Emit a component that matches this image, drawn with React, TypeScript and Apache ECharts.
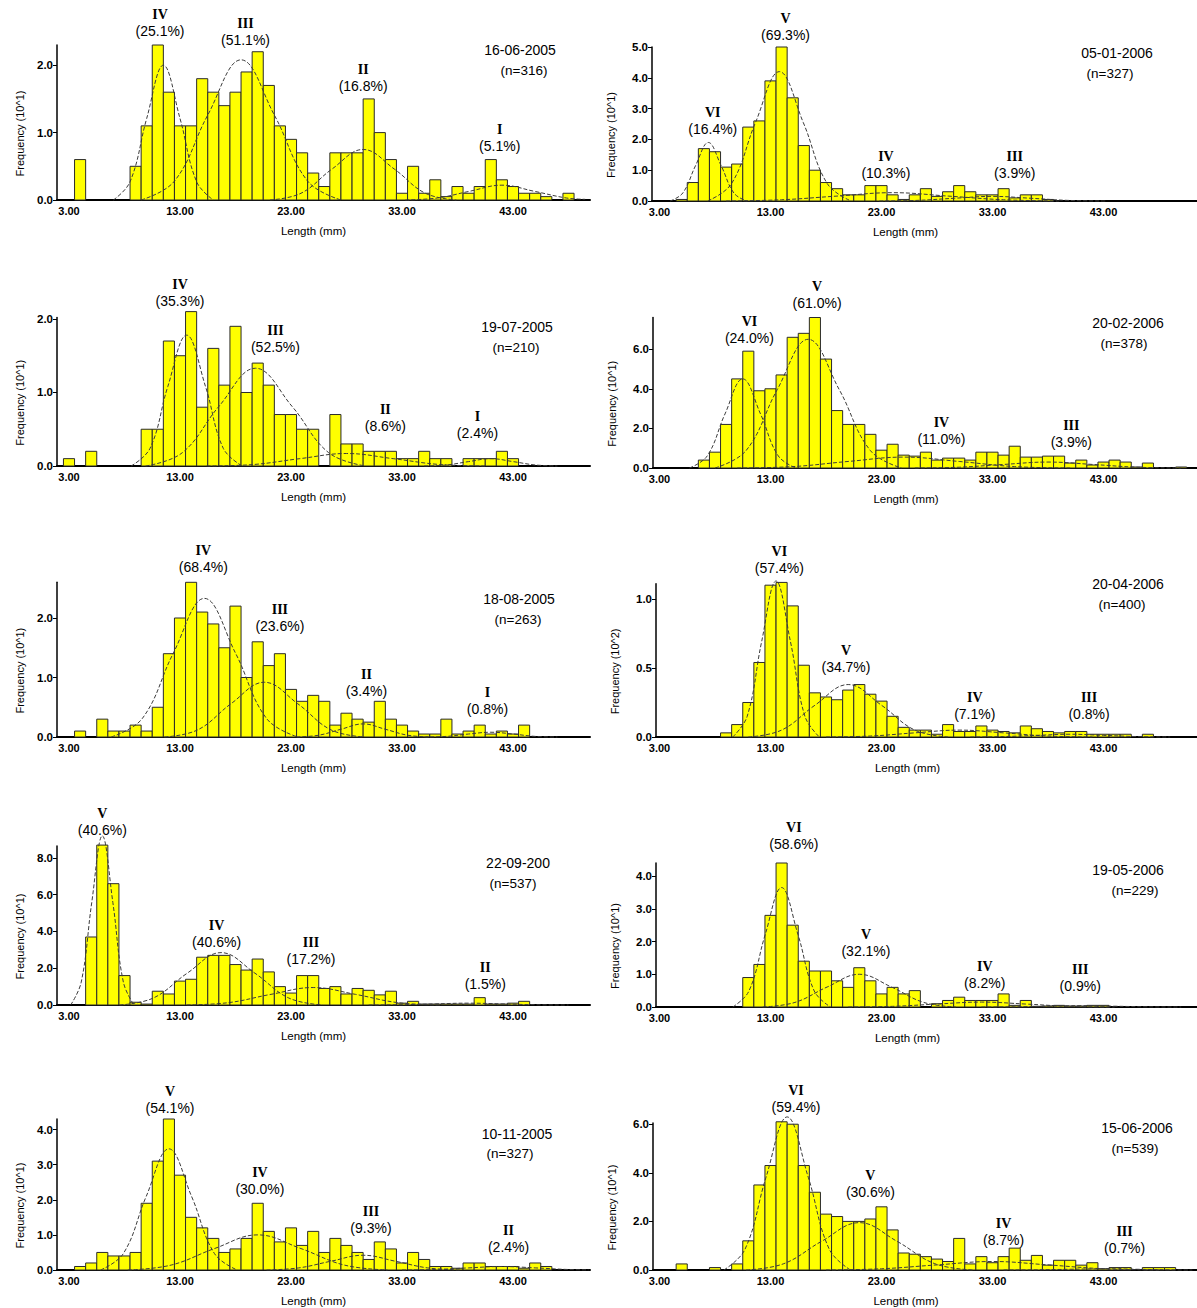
import React, { useEffect, useRef } from "react";
import * as echarts from "echarts";

// ---------------- DATA ----------------
// Length classes are 1 mm wide; the first value of every frequency list is the 3 mm class.
const FIRST_CLASS_MM = 3;
const lengthTickValues = [3, 13, 23, 33, 43];

// 16-06-2005 (n=316)
const freq_16_06_2005 = [0, 0.6, 0, 0, 0, 0, 0.5, 1.1, 2.3, 1.6, 1.1, 1.1, 1.8, 1.6, 1.4, 1.6, 1.9, 2.2, 1.7, 1.1, 0.9, 0.7, 0.4, 0.2, 0.7, 0.7, 0.7, 1.5, 1.0, 0.6, 0.1, 0.5, 0.1, 0.3, 0.05, 0.2, 0.1, 0.2, 0.6, 0.3, 0.2, 0.1, 0.1, 0.05, 0, 0.1];
const cohorts_16_06_2005 = ["IV", "III", "II", "I"];
const pct_16_06_2005 = [25.1, 51.1, 16.8, 5.1];
const curves_16_06_2005 = [
  [[7, 0], [8.5, 0.27], [10, 1.21], [11.5, 2.0], [13, 1.21], [14.5, 0.27], [16, 0]],
  [[9.5, 0], [12.5, 0.28], [15.5, 1.26], [18.5, 2.08], [21.5, 1.26], [24.5, 0.28], [27.5, 0]],
  [[21.1, 0], [23.9, 0.1], [26.7, 0.46], [29.5, 0.75], [32.3, 0.46], [35.1, 0.1], [37.9, 0]],
  [[33.3, 0], [36.2, 0.03], [39.1, 0.13], [42, 0.22], [44.9, 0.13], [47.8, 0.03], [49.5, 0.01]],
];
const yTicks_16_06_2005 = [0, 1, 2];

// 05-01-2006 (n=327)
const freq_05_01_2006 = [0, 0, 0.05, 0.6, 1.7, 1.6, 1.1, 1.2, 2.4, 2.6, 3.9, 5.0, 3.35, 1.8, 1.0, 0.6, 0.4, 0.2, 0.2, 0.5, 0.5, 0.2, 0.05, 0.2, 0.4, 0.15, 0.3, 0.5, 0.3, 0.2, 0.2, 0.4, 0.1, 0.2, 0.2, 0.05];
const cohorts_05_01_2006 = ["VI", "V", "IV", "III"];
const pct_05_01_2006 = [16.4, 69.3, 10.3, 3.9];
const curves_05_01_2006 = [
  [[3.95, 0], [5.1, 0.26], [6.25, 1.15], [7.4, 1.9], [8.55, 1.15], [9.7, 0.26], [10.85, 0]],
  [[7.35, 0], [9.5, 0.57], [11.65, 2.55], [13.8, 4.2], [15.95, 2.55], [18.1, 0.57], [20.25, 0]],
  [[9, 0], [14, 0.04], [19, 0.16], [24, 0.27], [29, 0.16], [34, 0.04], [39, 0]],
  [[22.8, 0], [26.2, 0.02], [29.6, 0.09], [33, 0.15], [36.4, 0.09], [39.8, 0.02], [43.2, 0]],
];
const yTicks_05_01_2006 = [0, 1, 2, 3, 4, 5];

// 19-07-2005 (n=210)
const freq_19_07_2005 = [0.1, 0, 0.2, 0, 0, 0, 0, 0.5, 0.5, 1.7, 1.5, 2.1, 0.8, 1.6, 1.1, 1.9, 1.0, 1.4, 1.1, 0.7, 0.7, 0.5, 0.5, 0, 0.7, 0.3, 0.3, 0.2, 0.2, 0.2, 0.1, 0.1, 0.2, 0.1, 0.1, 0, 0.1, 0.1, 0.1, 0.2, 0.1];
const cohorts_19_07_2005 = ["IV", "III", "II", "I"];
const pct_19_07_2005 = [35.3, 52.5, 8.6, 2.4];
const curves_19_07_2005 = [
  [[8.6, 0], [10.3, 0.24], [11.9, 1.08], [13.6, 1.78], [15.3, 1.08], [16.9, 0.24], [18.6, 0]],
  [[9.9, 0], [13.2, 0.18], [16.5, 0.81], [19.8, 1.33], [23.1, 0.81], [26.4, 0.18], [29.7, 0]],
  [[15.4, 0], [19.6, 0.02], [23.8, 0.1], [28, 0.17], [32.2, 0.1], [36.4, 0.02], [40.6, 0]],
  [[35, 0], [37, 0.014], [39, 0.06], [41, 0.1], [43, 0.06], [45, 0.014], [47, 0]],
];
const yTicks_19_07_2005 = [0, 1, 2];

// 20-02-2006 (n=378)
const freq_20_02_2006 = [0, 0, 0, 0, 0.4, 0.8, 2.2, 4.5, 5.9, 3.9, 4.0, 4.7, 6.6, 6.8, 7.6, 5.5, 2.9, 2.2, 2.2, 1.7, 0.9, 1.2, 0.65, 0.6, 0.8, 0.4, 0.5, 0.5, 0.4, 0.8, 0.8, 0.65, 1.1, 0.55, 0.55, 0.6, 0.6, 0.25, 0.4, 0.15, 0.3, 0.4, 0.3, 0.05, 0.25, 0, 0, 0.05];
const cohorts_20_02_2006 = ["VI", "V", "IV", "III"];
const pct_20_02_2006 = [24.0, 61.0, 11.0, 3.9];
const curves_20_02_2006 = [
  [[5.7, 0], [7.3, 0.61], [8.9, 2.73], [10.5, 4.5], [12.1, 2.73], [13.7, 0.61], [15.3, 0]],
  [[8, 0], [10.8, 0.88], [13.6, 3.95], [16.4, 6.5], [19.2, 3.95], [22, 0.88], [24.8, 0]],
  [[10, 0], [15, 0.07], [20, 0.33], [25, 0.55], [30, 0.33], [35, 0.07], [40, 0]],
  [[26, 0], [30, 0.04], [34, 0.18], [38, 0.3], [42, 0.18], [46, 0.04], [50, 0]],
];
const yTicks_20_02_2006 = [0, 2, 4, 6];

// 18-08-2005 (n=263)
const freq_18_08_2005 = [0, 0.1, 0, 0.3, 0.1, 0.1, 0.2, 0.1, 0.5, 1.4, 2.0, 2.6, 2.1, 1.9, 1.5, 2.2, 1.0, 1.6, 1.2, 1.4, 0.8, 0.6, 0.7, 0.6, 0.2, 0.4, 0.3, 0.25, 0.6, 0.3, 0.2, 0.1, 0.05, 0.05, 0.3, 0.05, 0.1, 0.2, 0.05, 0.1, 0.05, 0.2];
const cohorts_18_08_2005 = ["IV", "III", "II", "I"];
const pct_18_08_2005 = [68.4, 23.6, 3.4, 0.8];
const curves_18_08_2005 = [
  [[6.8, 0], [9.6, 0.31], [12.4, 1.41], [15.2, 2.33], [18, 1.41], [20.8, 0.31], [23.6, 0]],
  [[11.6, 0], [14.6, 0.12], [17.6, 0.56], [20.6, 0.92], [23.6, 0.56], [26.6, 0.12], [29.6, 0]],
  [[23.5, 0], [25.5, 0.03], [27.5, 0.13], [29.5, 0.22], [31.5, 0.13], [33.5, 0.03], [35.5, 0]],
  [[35, 0], [37, 0.01], [39, 0.05], [41, 0.08], [43, 0.05], [45, 0.01], [47, 0]],
];
const yTicks_18_08_2005 = [0, 1, 2];

// 20-04-2006 (n=400), frequency in 10^2
const freq_20_04_2006 = [0, 0, 0, 0, 0, 0, 0.03, 0.09, 0.25, 0.54, 1.1, 1.12, 0.95, 0.52, 0.32, 0.29, 0.27, 0.34, 0.38, 0.31, 0.26, 0.15, 0.07, 0.05, 0.05, 0.02, 0.09, 0.04, 0.04, 0.08, 0.05, 0.04, 0.03, 0.08, 0.06, 0.04, 0.03, 0.04, 0.04, 0.02, 0.02, 0.02, 0.02, 0, 0.02];
const cohorts_20_04_2006 = ["VI", "V", "IV", "III"];
const pct_20_04_2006 = [57.4, 34.7, 7.1, 0.8];
const curves_20_04_2006 = [
  [[9.6, 0], [10.9, 0.15], [12.2, 0.69], [13.5, 1.13], [14.8, 0.69], [16.1, 0.15], [17.4, 0]],
  [[11, 0], [14, 0.05], [17, 0.23], [20, 0.38], [23, 0.23], [26, 0.05], [29, 0]],
  [[18, 0], [22, 0.007], [26, 0.03], [30, 0.05], [34, 0.03], [38, 0.007], [42, 0]],
  [[31, 0], [34, 0.003], [37, 0.012], [40, 0.02], [43, 0.012], [46, 0.003], [49, 0]],
];
const yTicks_20_04_2006 = [0, 0.5, 1];

// 22-09-200 (n=537)
const freq_22_09_2005 = [0, 0, 3.7, 8.7, 6.6, 1.6, 0.15, 0.05, 0.75, 0.6, 1.3, 1.4, 2.6, 2.7, 2.7, 2.2, 1.9, 2.5, 1.8, 1.0, 0.65, 1.6, 1.6, 0.9, 1.0, 0.6, 0.9, 0.8, 0.55, 0.75, 0.1, 0.2, 0.05, 0.05, 0.05, 0.05, 0.05, 0.4, 0.05, 0.05, 0.1, 0.2];
const cohorts_22_09_2005 = ["V", "IV", "III", "II"];
const pct_22_09_2005 = [40.6, 40.6, 17.2, 1.5];
const curves_22_09_2005 = [
  [[3.15, 0], [4.1, 1.24], [5.05, 5.58], [6, 9.2], [6.95, 5.58], [7.9, 1.24], [8.85, 0]],
  [[7.55, 0], [10.6, 0.38], [13.65, 1.73], [16.7, 2.85], [19.75, 1.73], [22.8, 0.38], [25.85, 0]],
  [[13.6, 0], [17.4, 0.13], [21.2, 0.58], [25, 0.95], [28.8, 0.58], [32.6, 0.13], [36.4, 0]],
  [[30, 0], [33, 0.014], [36, 0.06], [39, 0.1], [42, 0.06], [45, 0.014], [48, 0]],
];
const yTicks_22_09_2005 = [0, 2, 4, 6, 8];

// 19-05-2006 (n=229)
const freq_19_05_2006 = [0, 0, 0, 0, 0, 0, 0, 0, 0.9, 1.3, 2.8, 4.4, 2.5, 1.4, 1.1, 1.1, 0.8, 0.6, 1.2, 0.8, 0.4, 0.6, 0.4, 0.5, 0, 0.1, 0.2, 0.3, 0.2, 0.2, 0.2, 0.4, 0.05, 0.2, 0.02, 0.03, 0.05, 0.03, 0.03, 0.05, 0.05];
const cohorts_19_05_2006 = ["VI", "V", "IV", "III"];
const pct_19_05_2006 = [58.6, 32.1, 8.2, 0.9];
const curves_19_05_2006 = [
  [[9.6, 0], [11.06, 0.49], [12.53, 2.22], [14, 3.65], [15.47, 2.22], [16.94, 0.49], [18.4, 0]],
  [[12.3, 0], [15.2, 0.14], [18.1, 0.61], [21, 1.0], [23.9, 0.61], [26.8, 0.14], [29.7, 0]],
  [[20, 0], [24, 0.02], [28, 0.09], [32, 0.15], [36, 0.09], [40, 0.02], [44, 0]],
  [[32, 0], [35, 0.005], [38, 0.024], [41, 0.04], [44, 0.024], [47, 0.005], [50, 0]],
];
const yTicks_19_05_2006 = [0, 1, 2, 3, 4];

// 10-11-2005 (n=327)
const freq_10_11_2005 = [0, 0.1, 0.2, 0.5, 0.4, 0.4, 0.5, 1.9, 3.1, 4.3, 2.7, 1.5, 1.2, 0.9, 0.5, 0.6, 0.9, 1.9, 1.1, 0.8, 1.2, 0.7, 1.1, 0.5, 0.9, 0.7, 0.5, 0.3, 0.8, 0.6, 0.2, 0.5, 0.3, 0.1, 0.1, 0.05, 0.2, 0.2, 0.1, 0.1, 0.1, 0.05, 0.2, 0.1];
const cohorts_10_11_2005 = ["V", "IV", "III", "II"];
const pct_10_11_2005 = [54.1, 30.0, 9.3, 2.4];
const curves_10_11_2005 = [
  [[5.85, 0], [7.9, 0.47], [9.95, 2.09], [12, 3.45], [14.05, 2.09], [16.1, 0.47], [18.15, 0]],
  [[8.3, 0], [12.2, 0.14], [16.1, 0.61], [20, 1.0], [23.9, 0.61], [27.8, 0.14], [31.7, 0]],
  [[20.8, 0], [23.7, 0.06], [26.6, 0.25], [29.5, 0.42], [32.4, 0.25], [35.3, 0.06], [38.2, 0]],
  [[33, 0], [36, 0.014], [39, 0.06], [42, 0.1], [45, 0.06], [48, 0.014], [49.8, 0.005]],
];
const yTicks_10_11_2005 = [0, 1, 2, 3, 4];

// 15-06-2006 (n=539)
const freq_15_06_2006 = [0, 0, 0.25, 0, 0, 0.1, 0, 0.25, 1.2, 3.5, 4.3, 6.1, 6.0, 4.3, 3.2, 2.3, 2.2, 2.0, 2.0, 2.1, 2.6, 1.65, 0.7, 0.65, 0.55, 0.45, 0.35, 1.3, 0.25, 0.55, 0.3, 0.55, 0.9, 0.4, 0.6, 0.2, 0.4, 0.4, 0.2, 0.3, 0.05, 0.1, 0.1, 0, 0.1, 0.1, 0.1];
const cohorts_15_06_2006 = ["VI", "V", "IV", "III"];
const pct_15_06_2006 = [59.4, 30.6, 8.7, 0.7];
const curves_15_06_2006 = [
  [[8.8, 0], [10.7, 0.85], [12.6, 3.82], [14.5, 6.3], [16.4, 3.82], [18.3, 0.85], [20.2, 0]],
  [[10.8, 0], [14.2, 0.26], [17.6, 1.18], [21, 1.95], [24.4, 1.18], [27.8, 0.26], [31.2, 0]],
  [[18, 0], [23, 0.05], [28, 0.21], [33, 0.35], [38, 0.21], [43, 0.05], [48, 0]],
  [[34, 0], [37, 0.007], [40, 0.03], [43, 0.05], [46, 0.03], [49, 0.007], [51, 0]],
];
const yTicks_15_06_2006 = [0, 2, 4, 6];

// ---------------- LAYOUT ----------------
const PX_PER_MM = 11.1;

type Layout = {
  left: number; top: number; width: number; height: number; x13: number; yMax: number;
  labelPos: number[][]; datePos: number[]; nPos: number[];
};

const panels = [
  { date: "16-06-2005", n: 316, unit: "Frequency (10^1)", freq: freq_16_06_2005, cohorts: cohorts_16_06_2005, pct: pct_16_06_2005, curves: curves_16_06_2005, yTicks: yTicks_16_06_2005,
    layout: { left: 57, top: 45, width: 533, height: 155, x13: 180, yMax: 2.3, labelPos: [[11.2, 2.62], [18.9, 2.5], [29.5, 1.81], [41.8, 0.92]], datePos: [520, 50], nPos: [524, 70] } },
  { date: "05-01-2006", n: 327, unit: "Frequency (10^1)", freq: freq_05_01_2006, cohorts: cohorts_05_01_2006, pct: pct_05_01_2006, curves: curves_05_01_2006, yTicks: yTicks_05_01_2006,
    layout: { left: 652, top: 47, width: 545, height: 154, x13: 770.5, yMax: 5, labelPos: [[7.8, 2.6], [14.35, 5.65], [23.4, 1.17], [35, 1.17]], datePos: [1117, 53], nPos: [1110, 73] } },
  { date: "19-07-2005", n: 210, unit: "Frequency (10^1)", freq: freq_19_07_2005, cohorts: cohorts_19_07_2005, pct: pct_19_07_2005, curves: curves_19_07_2005, yTicks: yTicks_19_07_2005,
    layout: { left: 57, top: 317.5, width: 533, height: 148.5, x13: 180, yMax: 2.02, labelPos: [[13, 2.35], [21.6, 1.73], [31.5, 0.65], [39.8, 0.56]], datePos: [517, 327], nPos: [516, 347] } },
  { date: "20-02-2006", n: 378, unit: "Frequency (10^1)", freq: freq_20_02_2006, cohorts: cohorts_20_02_2006, pct: pct_20_02_2006, curves: curves_20_02_2006, yTicks: yTicks_20_02_2006,
    layout: { left: 653, top: 317.5, width: 544, height: 150.5, x13: 770.5, yMax: 7.6, labelPos: [[11.1, 6.97], [17.2, 8.74], [28.4, 1.87], [40.1, 1.72]], datePos: [1128, 323], nPos: [1124, 343] } },
  { date: "18-08-2005", n: 263, unit: "Frequency (10^1)", freq: freq_18_08_2005, cohorts: cohorts_18_08_2005, pct: pct_18_08_2005, curves: curves_18_08_2005, yTicks: yTicks_18_08_2005,
    layout: { left: 57, top: 582.3, width: 533, height: 154.7, x13: 180, yMax: 2.6, labelPos: [[15.1, 2.99], [22.0, 2.0], [29.8, 0.91], [40.7, 0.6]], datePos: [519, 599], nPos: [518, 619] } },
  { date: "20-04-2006", n: 400, unit: "Frequency (10^2)", freq: freq_20_04_2006, cohorts: cohorts_20_04_2006, pct: pct_20_04_2006, curves: curves_20_04_2006, yTicks: yTicks_20_04_2006,
    layout: { left: 656, top: 583.8, width: 541, height: 153.2, x13: 770.5, yMax: 1.11, labelPos: [[13.8, 1.28], [19.8, 0.565], [31.4, 0.225], [41.7, 0.225]], datePos: [1128, 584], nPos: [1122, 604] } },
  { date: "22-09-200", n: 537, unit: "Frequency (10^1)", freq: freq_22_09_2005, cohorts: cohorts_22_09_2005, pct: pct_22_09_2005, curves: curves_22_09_2005, yTicks: yTicks_22_09_2005,
    layout: { left: 57, top: 846, width: 533, height: 159, x13: 180, yMax: 8.65, labelPos: [[6, 9.95], [16.3, 3.86], [24.8, 2.93], [40.5, 1.58]], datePos: [518, 863], nPos: [513, 883] } },
  { date: "19-05-2006", n: 229, unit: "Frequency (10^1)", freq: freq_19_05_2006, cohorts: cohorts_19_05_2006, pct: pct_19_05_2006, curves: curves_19_05_2006, yTicks: yTicks_19_05_2006,
    layout: { left: 656, top: 863, width: 541, height: 144, x13: 770.5, yMax: 4.4, labelPos: [[15.1, 5.24], [21.6, 1.97], [32.3, 0.97], [40.9, 0.88]], datePos: [1128, 870], nPos: [1135, 890] } },
  { date: "10-11-2005", n: 327, unit: "Frequency (10^1)", freq: freq_10_11_2005, cohorts: cohorts_10_11_2005, pct: pct_10_11_2005, curves: curves_10_11_2005, yTicks: yTicks_10_11_2005,
    layout: { left: 57, top: 1119, width: 533, height: 155, x13: 180, yMax: 4.3, labelPos: [[12.1, 4.83], [20.2, 2.53], [30.2, 1.42], [42.6, 0.89]], datePos: [517, 1134], nPos: [510, 1153] } },
  { date: "15-06-2006", n: 539, unit: "Frequency (10^1)", freq: freq_15_06_2006, cohorts: cohorts_15_06_2006, pct: pct_15_06_2006, curves: curves_15_06_2006, yTicks: yTicks_15_06_2006,
    layout: { left: 653, top: 1123, width: 544, height: 151, x13: 770.5, yMax: 6.05, labelPos: [[15.3, 7.04], [22, 3.56], [34, 1.56], [44.9, 1.24]], datePos: [1137, 1128], nPos: [1135, 1148] } },
];

const SANS = "Liberation Sans";
const SERIF = "Liberation Serif";

function buildOption() {
  const grid: any[] = [];
  const xAxis: any[] = [];
  const yAxis: any[] = [];
  const series: any[] = [];
  const graphic: any[] = [];

  panels.forEach((p, i) => {
    const L: Layout = p.layout;
    const isRight = L.left > 400;
    const xMin = 13 - (L.x13 - L.left) / PX_PER_MM;
    const xMax = xMin + L.width / PX_PER_MM;

    grid.push({ left: L.left, top: L.top, width: L.width, height: L.height, containLabel: false });

    xAxis.push({
      type: "value", gridIndex: i, min: xMin, max: xMax,
      name: "Length (mm)", nameLocation: "middle", nameGap: 25,
      nameTextStyle: { fontFamily: SANS, fontSize: 11.5, color: "#000", padding: [0, isRight ? 38 : 20, 0, 0] },
      axisLine: { show: true, onZero: false, lineStyle: { color: "#000", width: 2 } },
      axisTick: { show: false },
      splitLine: { show: false },
      axisLabel: {
        customValues: lengthTickValues, margin: 5,
        formatter: (v: number) => v.toFixed(2),
        fontFamily: SANS, fontSize: 11, fontWeight: "bold", color: "#000",
      },
    });

    yAxis.push({
      type: "value", gridIndex: i, min: 0, max: L.yMax,
      name: p.unit, nameLocation: "middle", nameRotate: 90, nameGap: isRight ? 36 : 32,
      nameTextStyle: { fontFamily: SANS, fontSize: 11, color: "#000", padding: [0, 22, 0, 0] },
      axisLine: { show: true, lineStyle: { color: "#000", width: 1.5 } },
      axisTick: { show: true, length: 4, customValues: p.yTicks, lineStyle: { color: "#000" } },
      splitLine: { show: false },
      axisLabel: {
        customValues: p.yTicks, margin: 4,
        formatter: (v: number) => v.toFixed(1),
        fontFamily: SANS, fontSize: 11.5, fontWeight: "bold", color: "#000",
      },
    });

    // histogram bars (1 mm classes)
    series.push({
      type: "custom", xAxisIndex: i, yAxisIndex: i, clip: false, silent: true, z: 2,
      encode: { x: 0, y: 1 },
      data: p.freq.map((v, k) => [FIRST_CLASS_MM + k, v]),
      renderItem: (params: any, api: any) => {
        const x = api.value(0);
        const v = api.value(1);
        if (!v) return null;
        const a = api.coord([x - 0.5, v]);
        const b = api.coord([x + 0.5, 0]);
        return {
          type: "rect",
          shape: { x: a[0], y: a[1], width: b[0] - a[0], height: b[1] - a[1] },
          style: { fill: "#ffff00", stroke: "#2a2a2a", lineWidth: 1 },
        };
      },
    });

    // fitted cohort curves
    p.curves.forEach((c) => {
      series.push({
        type: "line", xAxisIndex: i, yAxisIndex: i, data: c, smooth: 0.4,
        symbol: "none", clip: false, silent: true, z: 3,
        lineStyle: { color: "#3c3c3c", width: 1, type: [4, 2] },
      });
    });

    // cohort labels
    series.push({
      type: "scatter", xAxisIndex: i, yAxisIndex: i, clip: false, silent: true, z: 4,
      symbolSize: 1, itemStyle: { color: "rgba(255,255,255,0)" },
      data: L.labelPos.map((pos, k) => ({ value: pos, cohort: p.cohorts[k], pct: p.pct[k] })),
      label: {
        show: true, position: "inside", align: "center", verticalAlign: "middle",
        color: "#000", opacity: 1, textBorderWidth: 0,
        formatter: (prm: any) => `{r|${prm.data.cohort}}\n{p|(${prm.data.pct.toFixed(1)}%)}`,
        rich: {
          r: { fontFamily: SERIF, fontWeight: "bold", fontSize: 14, lineHeight: 16, color: "#000", align: "center", textBorderWidth: 0 },
          p: { fontFamily: SANS, fontSize: 14, lineHeight: 17, color: "#000", align: "center", textBorderWidth: 0 },
        },
      },
    });

    graphic.push({
      type: "text", x: L.datePos[0], y: L.datePos[1], silent: true,
      style: { text: p.date, fontFamily: SANS, fontSize: 14, fill: "#000", align: "center", verticalAlign: "middle", textAlign: "center", textVerticalAlign: "middle" },
    });
    graphic.push({
      type: "text", x: L.nPos[0], y: L.nPos[1], silent: true,
      style: { text: `(n=${p.n})`, fontFamily: SANS, fontSize: 13.5, fill: "#000", align: "center", verticalAlign: "middle", textAlign: "center", textVerticalAlign: "middle" },
    });
  });

  return {
    animation: false,
    backgroundColor: "#ffffff",
    grid, xAxis, yAxis, series, graphic,
  };
}

export default function App() {
  const ref = useRef<HTMLDivElement>(null);
  useEffect(() => {
    if (!ref.current) return;
    const chart = echarts.init(ref.current, null, { renderer: "svg", width: 1197, height: 1308 });
    chart.setOption(buildOption() as any);
    return () => chart.dispose();
  }, []);
  return (
    <div
      ref={ref}
      style={{ position: "absolute", left: 0, top: 0, width: 1197, height: 1308, background: "#fff" }}
    />
  );
}
